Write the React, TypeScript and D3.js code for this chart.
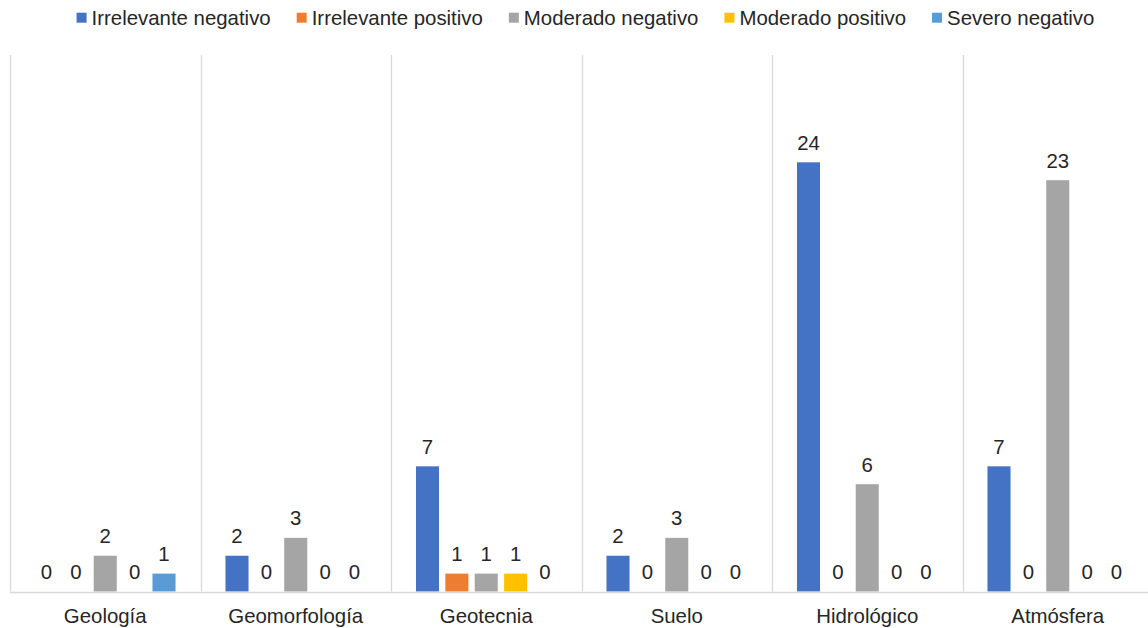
import { useEffect, useRef } from "react";
import { select, scaleBand, scaleLinear } from "d3";

// categories and series
const categories = ["Geología", "Geomorfología", "Geotecnia", "Suelo", "Hidrológico", "Atmósfera"];
const seriesNames = [
  "Irrelevante negativo",
  "Irrelevante positivo",
  "Moderado negativo",
  "Moderado positivo",
  "Severo negativo",
];
const irrelevanteNegativo = [0, 2, 7, 2, 24, 7];
const irrelevantePositivo = [0, 0, 1, 0, 0, 0];
const moderadoNegativo = [2, 3, 1, 3, 6, 23];
const moderadoPositivo = [0, 0, 1, 0, 0, 0];
const severoNegativo = [1, 0, 0, 0, 0, 0];
const seriesValues = [
  irrelevanteNegativo,
  irrelevantePositivo,
  moderadoNegativo,
  moderadoPositivo,
  severoNegativo,
];

const colors = ["#4472C4", "#ED7D31", "#A5A5A5", "#FFC000", "#5B9BD5"];

const width = 1148;
const height = 628;
const plot = { left: 10, right: 1153, top: 55, bottom: 591.5 };
const font = "'Liberation Sans', Arial, sans-serif";
const fontSize = 20.4;
const textColor = "#262626";
const gridColor = "#D9D9D9";

export default function App() {
  const ref = useRef<SVGSVGElement>(null);

  useEffect(() => {
    if (!ref.current) return;
    const svg = select(ref.current);
    svg.selectAll("*").remove();

    // scales
    const x0 = scaleBand().domain(categories).range([plot.left, plot.right]).padding(0);
    const x1 = scaleBand()
      .domain(seriesNames)
      .range([0, x0.bandwidth()])
      .paddingInner(0.215)
      .paddingOuter(0.85);
    const y = scaleLinear().domain([0, 30]).range([plot.bottom, plot.top]);

    // vertical separators between categories
    const edges = categories.map((c) => x0(c) as number).concat([plot.right]);
    svg
      .append("g")
      .selectAll("line")
      .data(edges)
      .enter()
      .append("line")
      .attr("x1", (d) => Math.round(d) + 0.5)
      .attr("x2", (d) => Math.round(d) + 0.5)
      .attr("y1", plot.top)
      .attr("y2", plot.bottom)
      .attr("stroke", gridColor)
      .attr("stroke-width", 1.3);

    // bars + labels
    const flat = categories.flatMap((c, ci) =>
      seriesNames.map((s, si) => ({ cat: c, series: s, si, value: seriesValues[si][ci] }))
    );
    const bars = svg.append("g");
    bars
      .selectAll("rect")
      .data(flat.filter((d) => d.value > 0))
      .enter()
      .append("rect")
      .attr("x", (d) => (x0(d.cat) as number) + (x1(d.series) as number))
      .attr("y", (d) => y(d.value))
      .attr("width", x1.bandwidth())
      .attr("height", (d) => y(0) - y(d.value))
      .attr("fill", (d) => colors[d.si]);

    bars
      .selectAll("text")
      .data(flat)
      .enter()
      .append("text")
      .attr("x", (d) => (x0(d.cat) as number) + (x1(d.series) as number) + x1.bandwidth() / 2)
      .attr("y", (d) => y(d.value) - 12.5)
      .attr("text-anchor", "middle")
      .attr("font-family", font)
      .attr("font-size", fontSize)
      .attr("fill", textColor)
      .text((d) => d.value);

    // baseline
    svg
      .append("line")
      .attr("x1", plot.left)
      .attr("x2", plot.right)
      .attr("y1", Math.round(plot.bottom) + 0.5)
      .attr("y2", Math.round(plot.bottom) + 0.5)
      .attr("stroke", gridColor)
      .attr("stroke-width", 1.3);

    // category labels
    svg
      .append("g")
      .selectAll("text")
      .data(categories)
      .enter()
      .append("text")
      .attr("x", (d) => (x0(d) as number) + x0.bandwidth() / 2)
      .attr("y", 623)
      .attr("text-anchor", "middle")
      .attr("font-family", font)
      .attr("font-size", fontSize)
      .attr("fill", textColor)
      .text((d) => d);

    // legend, laid out from measured text widths and centred
    const legend = svg.append("g");
    const items = seriesNames.map((name, i) => {
      const g = legend.append("g");
      g.append("rect").attr("width", 10).attr("height", 10).attr("y", 12.7).attr("fill", colors[i]);
      const t = g
        .append("text")
        .attr("x", 15)
        .attr("y", 25)
        .attr("font-family", font)
        .attr("font-size", fontSize)
        .attr("fill", textColor)
        .text(name);
      const w = (t.node() as SVGTextElement).getComputedTextLength();
      return { g, w: 15 + w };
    });
    const gap = 26;
    const total = items.reduce((a, b) => a + b.w, 0) + gap * (items.length - 1);
    let cx = 585.5 - total / 2;
    items.forEach((it) => {
      it.g.attr("transform", `translate(${cx},0)`);
      cx += it.w + gap;
    });
  }, []);

  return (
    <svg
      ref={ref}
      width={width}
      height={height}
      style={{ position: "absolute", left: 0, top: 0, background: "#fff" }}
    ></svg>
  );
}
